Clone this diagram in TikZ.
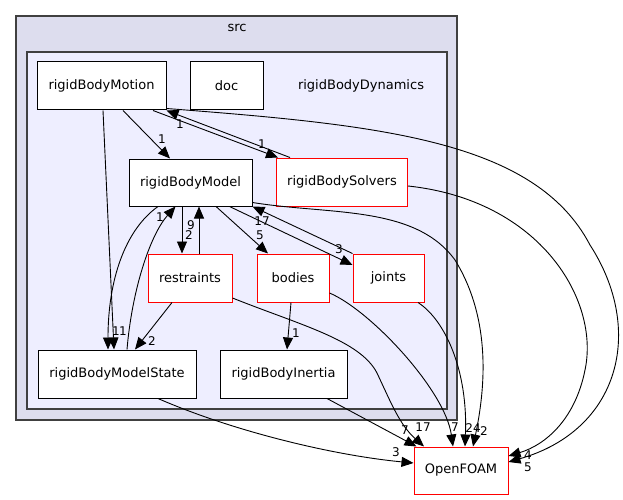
\documentclass[tikz,border=0pt]{standalone}
\usepackage{fontspec}
\setmainfont{DejaVu Sans}
\usetikzlibrary{arrows.meta}
\definecolor{srcfill}{HTML}{DDDDEE}
\definecolor{dynfill}{HTML}{EEEEFF}
\definecolor{clusterline}{HTML}{404040}
\begin{document}
\begin{tikzpicture}[x=1pt,y=-1pt,
        dirnode/.style={draw=black,fill=white,line width=1pt,minimum height=48pt,inner sep=0pt,font=\fontsize{13}{15}\selectfont},
        reddir/.style={dirnode,draw=red},
        dep/.style={-{Triangle[length=12pt,width=10pt]},line width=0.9pt},
        lbl/.style={inner sep=0pt,font=\fontsize{12}{14}\selectfont}]
            \useasboundingbox (0,0) rectangle (623,500);
            % clusters
            \draw [clusterline,fill=srcfill,line width=1.5pt] (16,16) rectangle (457,420);
            \node [lbl,font=\fontsize{13}{15}\selectfont] (srclbl) at (237,28) {src};
            \draw [clusterline,fill=dynfill,line width=1.5pt] (27,52) rectangle (447,409);
            \node [lbl,font=\fontsize{13}{15}\selectfont] (dynlbl) at (361,86) {rigidBodyDynamics};
            % directories
            \node [dirnode,minimum width=129pt] (motion) at (101.5,86) {rigidBodyMotion};
            \node [dirnode,minimum width=73pt] (doc) at (226.5,86) {doc};
            \node [dirnode,minimum width=123pt,minimum height=47pt] (model) at (190.5,182.5) {rigidBodyModel};
            \node [reddir,minimum width=131pt] (solvers) at (342,182) {rigidBodySolvers};
            \node [reddir,minimum width=84pt] (restraints) at (190,278) {restraints};
            \node [reddir,minimum width=72pt] (bodies) at (293,278) {bodies};
            \node [reddir,minimum width=71pt] (joints) at (388.5,278) {joints};
            \node [dirnode,minimum width=158pt] (state) at (117,374) {rigidBodyModelState};
            \node [dirnode,minimum width=127pt] (inertia) at (283.5,374) {rigidBodyInertia};
            \node [reddir,minimum width=94pt,minimum height=47pt] (openfoam) at (461,470.5) {OpenFOAM};
            % dependencies
            \draw [dep] ([xshift=21.5pt]motion.south) -- ([xshift=-20.5pt]model.north);
            \draw [dep] ([xshift=51.5pt]motion.south) -- ([xshift=-64pt]solvers.north);
            \draw [dep] ([xshift=-52pt]solvers.north) -- (motion.south east);
            \draw [dep] ([xshift=1.5pt]motion.south) -- ([xshift=-3pt]state.north);
            \draw [dep] ([xshift=-32.5pt]model.south) .. controls (125,230) and (108,280) .. ([xshift=-9pt]state.north);
            \draw [dep] ([xshift=10pt]state.north) .. controls (132,290) and (150,235) .. ([xshift=-15pt]model.south);
            \draw [dep] ([xshift=-8.5pt]model.south) -- ([xshift=-8pt]restraints.north);
            \draw [dep] ([xshift=9pt]restraints.north) -- ([xshift=8.5pt]model.south);
            \draw [dep] ([xshift=25.5pt]model.south) -- ([xshift=-25pt]bodies.north);
            \draw [dep] ([xshift=39pt]model.south) -- ([yshift=13pt]joints.west);
            \draw [dep] (joints.north west) -- (model.south east);
            \draw [dep] ([xshift=-18pt]restraints.south) -- ([xshift=18pt]state.north);
            \draw [dep] ([xshift=-2pt]bodies.south) -- ([xshift=3.5pt]inertia.north);
            \draw [dep] ([yshift=-20pt]model.east) .. controls (330,215) and (415,205) .. (455,260) .. controls (492,320) and (485,390) .. ([xshift=12pt]openfoam.north);
            \draw [dep] ([xshift=29.5pt]joints.south) .. controls (445,320) and (468,370) .. ([xshift=4pt]openfoam.north);
            \draw [dep] ([yshift=-15pt]bodies.east) .. controls (370,310) and (445,390) .. ([xshift=-8pt]openfoam.north);
            \draw [dep] ([yshift=-20pt]restraints.east) .. controls (300,325) and (360,340) .. (377,373) .. controls (392,405) and (400,425) .. ([xshift=-37pt]openfoam.north);
            \draw [dep] ([xshift=43.5pt]inertia.south) -- ([xshift=3pt]openfoam.north west);
            \draw [dep] ([xshift=41pt]state.south) .. controls (230,430) and (330,455) .. ([yshift=7.5pt]openfoam.west);
            \draw [dep] ([yshift=-4pt]solvers.east) .. controls (540,200) and (600,300) .. (585,370) .. controls (575,420) and (545,445) .. ([yshift=14.5pt]openfoam.east);
            \draw [dep] ([yshift=2pt]motion.south east) .. controls (380,125) and (535,140) .. (590,245) .. controls (645,330) and (620,430) .. ([yshift=8.5pt]openfoam.east);
            % labels
            \node [lbl] (l1) at (162,139) {1};
            \node [lbl] (l2) at (262,144) {1};
            \node [lbl] (l3) at (180,124) {1};
            \node [lbl] (l4) at (123,331) {1};
            \node [lbl] (l5) at (116,331) {1};
            \node [lbl] (l6) at (160,217) {1};
            \node [lbl] (l7) at (189,235) {2};
            \node [lbl] (l8) at (191,225) {9};
            \node [lbl] (l9) at (260,235) {5};
            \node [lbl] (l10) at (339,249) {3};
            \node [lbl] (l11) at (262,221) {17};
            \node [lbl] (l12) at (152,341) {2};
            \node [lbl] (l13) at (296,333) {1};
            \node [lbl] (l14) at (484,431) {2};
            \node [lbl] (l15) at (473,428) {24};
            \node [lbl] (l16) at (455,427) {7};
            \node [lbl] (l17) at (423,427) {17};
            \node [lbl] (l18) at (405,430) {7};
            \node [lbl] (l19) at (396,452) {3};
            \node [lbl] (l20) at (528,455) {4};
            \node [lbl] (l21) at (528,467) {5};
        \end{tikzpicture}
\end{document}
